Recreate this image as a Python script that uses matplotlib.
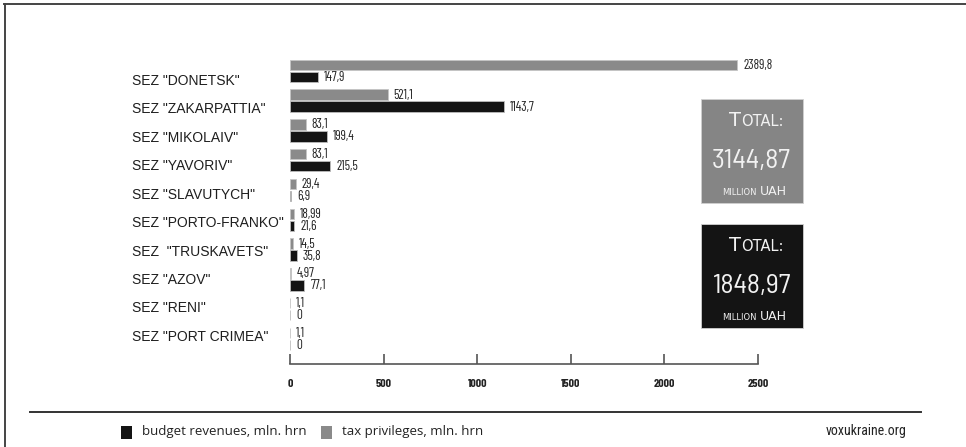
import matplotlib
matplotlib.use("Agg")
import matplotlib.pyplot as plt
from matplotlib.patches import Rectangle
from matplotlib.lines import Line2D
import matplotlib.transforms as mtransforms

# ---- data -------------------------------------------------------------
zones = ['SEZ "DONETSK"', 'SEZ "ZAKARPATTIA"', 'SEZ "MIKOLAIV"', 'SEZ "YAVORIV"',
         'SEZ "SLAVUTYCH"', 'SEZ "PORTO-FRANKO"', 'SEZ  "TRUSKAVETS"', 'SEZ "AZOV"',
         'SEZ "RENI"', 'SEZ "PORT CRIMEA"']
tax_privileges = [2389.8, 521.1, 83.1, 83.1, 29.4, 18.99, 14.5, 4.97, 1.1, 1.1]
budget_revenues = [147.9, 1143.7, 199.4, 215.5, 6.9, 21.6, 35.8, 77.1, 0, 0]
x_ticks = [0, 500, 1000, 1500, 2000, 2500]
total_tax = "3144,87"
total_budget = "1848,97"
legend_labels = ["budget revenues, mln. hrn", "tax privileges, mln. hrn"]
source = "voxukraine.org"

# ---- style ------------------------------------------------------------
W, H = 966, 447
GREY = "#8a8a8a"
BLACK = "#141414"
COND = ["Barlow Condensed", "DejaVu Sans"]
SEMI = ["Barlow Semi Condensed", "Barlow Condensed", "DejaVu Sans"]


def fx(px):
    return px / W


def fy(py):
    return 1 - py / H


fig = plt.figure(figsize=(W / 100, H / 100), dpi=100)
fig.patch.set_facecolor("white")

ax = fig.add_axes([fx(290), fy(364), fx(758) - fx(290), fy(53) - fy(364)])
ax.set_xlim(0, 2500)
ax.set_ylim(9.84, -0.6)

pos = list(range(len(zones)))
bh = 0.35
ax.barh([p - 0.2 for p in pos], tax_privileges, height=bh, color=GREY,
        edgecolor="#c4c4c4", linewidth=0.6)
ax.barh([p + 0.2 for p in pos], budget_revenues, height=bh, color=BLACK,
        edgecolor="#bdbdbd", linewidth=0.6)


def fmt(v):
    return f"{v:g}".replace(".", ",")


for p, t, b in zip(pos, tax_privileges, budget_revenues):
    for val, yy in ((t, p - 0.2), (b, p + 0.2)):
        ax.annotate(fmt(val), xy=(val, yy), xytext=(6, -0.5),
                    textcoords="offset pixels", va="center", ha="left",
                    fontsize=9.5, family=COND, color="#222222",
                    annotation_clip=False)

# category names, left-aligned in figure space
lab_tr = mtransforms.blended_transform_factory(fig.transFigure, ax.transData)
for p, name in enumerate(zones):
    off = (10 - 1.35 * p) / 29.8
    ax.text(fx(132), p + off, name, transform=lab_tr, ha="left", va="center",
            fontsize=10, family="Liberation Sans", color="#1e1e1e")

# axis styling
for s in ("top", "right", "left"):
    ax.spines[s].set_visible(False)
ax.spines["bottom"].set_color("#555555")
ax.spines["bottom"].set_linewidth(1.2)
ax.set_yticks([])
ax.set_xticks(x_ticks)
ax.set_xticklabels([str(t) for t in x_ticks], family=COND, fontsize=8.5,
                   fontweight="bold", color="#222222")
ax.tick_params(axis="x", direction="in", length=7, width=1.2, color="#555555",
               pad=11)

# ---- total boxes ------------------------------------------------------
def total_box(top, color, value):
    fig.patches.append(Rectangle((fx(701), fy(top + 104)), fx(102), 104 / H,
                                 transform=fig.transFigure, facecolor=color,
                                 edgecolor="#d0d0d0", linewidth=0.6))
    tc = "#f2f2f2"
    fig.text(fx(741), fy(top + 27), "T", ha="right", va="baseline",
             fontsize=14, family="DejaVu Sans", color=tc)
    fig.text(fx(741), fy(top + 27), "OTAL:", ha="left", va="baseline",
             fontsize=10.5, family="DejaVu Sans", color=tc)
    fig.text(fx(751), fy(top + 69), value, ha="center", va="baseline",
             fontsize=20, family=SEMI, color=tc)
    fig.text(fx(757), fy(top + 96), "MILLION", ha="right", va="baseline",
             fontsize=6, family="DejaVu Sans", color=tc)
    fig.text(fx(760), fy(top + 96), "UAH", ha="left", va="baseline",
             fontsize=9, family="DejaVu Sans", color=tc)


total_box(99, "#858585", total_tax)
total_box(224, BLACK, total_budget)

# ---- frame, rule, legend, source --------------------------------------
fig.add_artist(Line2D([fx(4), 1], [fy(3.5), fy(3.5)], transform=fig.transFigure,
                      color="#444444", linewidth=1.4))
fig.add_artist(Line2D([fx(4.5), fx(4.5)], [fy(3.5), 0], transform=fig.transFigure,
                      color="#444444", linewidth=1.4))
fig.add_artist(Line2D([fx(30), fx(921)], [fy(412), fy(412)],
                      transform=fig.transFigure, color="#333333", linewidth=1.4))

for x0, col, txt in ((121, BLACK, legend_labels[0]), (321, GREY, legend_labels[1])):
    fig.patches.append(Rectangle((fx(x0), fy(439)), fx(11), 13 / H,
                                 transform=fig.transFigure, facecolor=col,
                                 edgecolor="none"))
    fig.text(fx(x0 + 21), fy(432), txt, ha="left", va="center", fontsize=9.5,
             family="Open Sans", color="#222222")

fig.text(fx(907), fy(431), source, ha="right", va="center", fontsize=10,
         family=["Roboto Condensed", "DejaVu Sans"], color="#222222")

fig.savefig("out.png", dpi=100, facecolor="white")
